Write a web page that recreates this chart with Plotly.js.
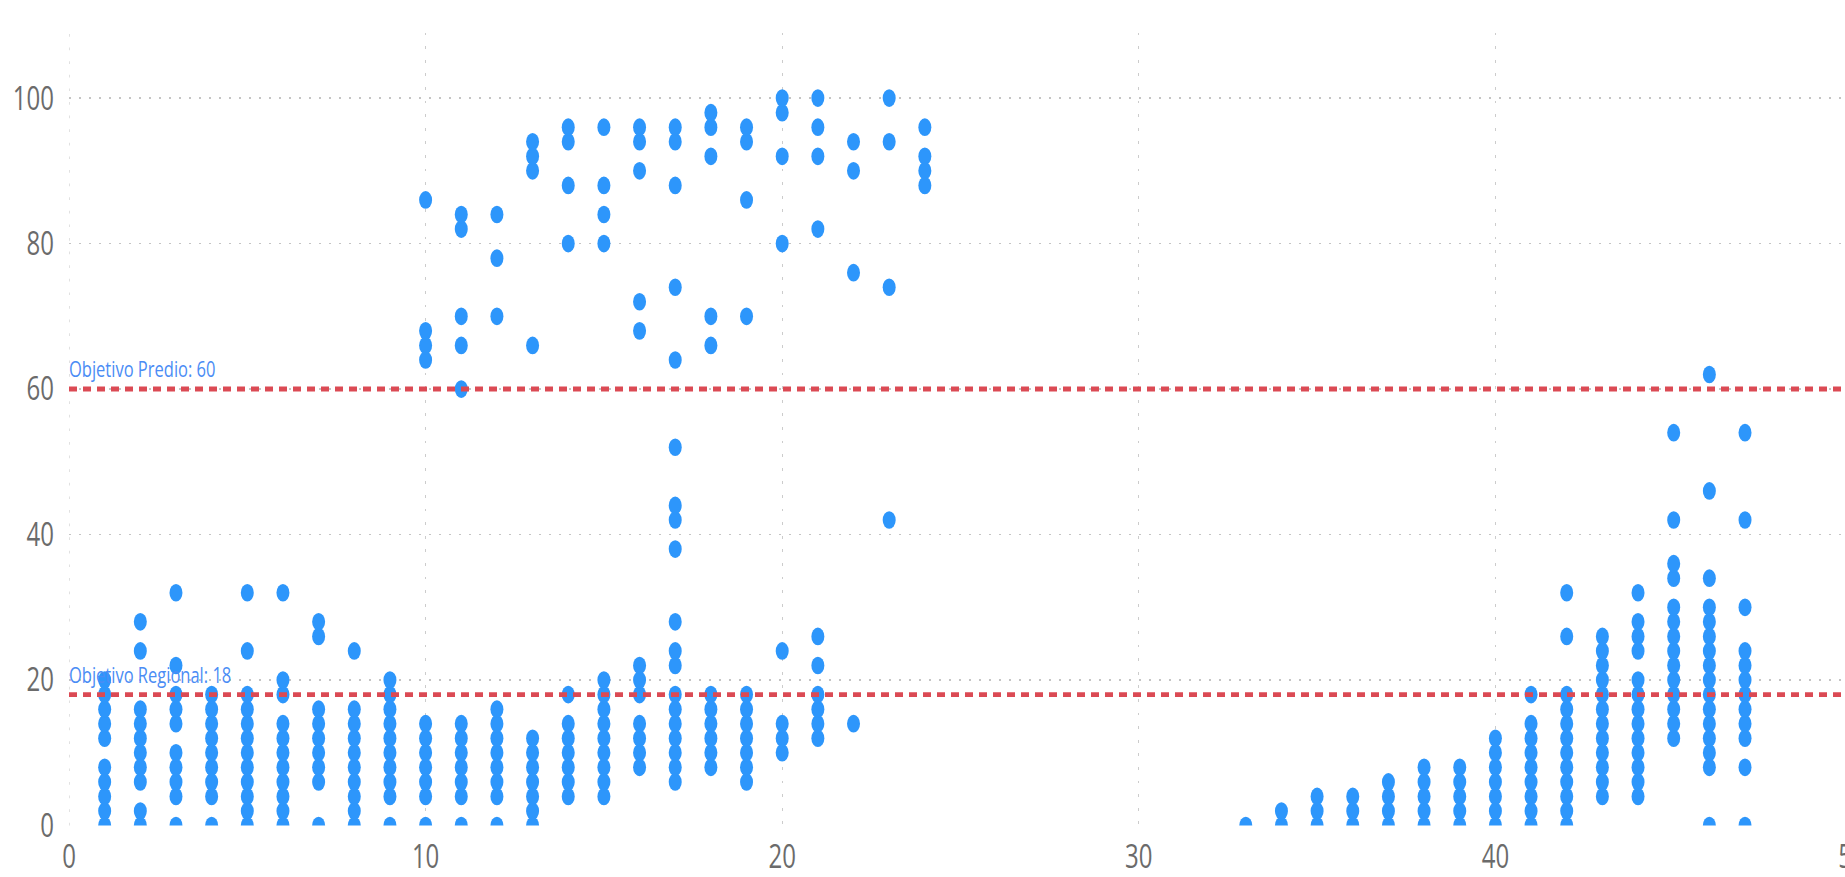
<!DOCTYPE html>
<html>
<head>
<meta charset="utf-8">
<script src="https://cdn.plot.ly/plotly-3.0.1.min.js"></script>
<style>
  html, body { margin: 0; padding: 0; background: #ffffff; overflow: hidden; width: 1845px; height: 877px; }
  #wrap { position: absolute; left: 0; top: 0; width: 1880px; height: 645px; transform-origin: 0 0; transform: scaleY(1.36); }
  #chart { width: 1880px; height: 645px; }
</style>
</head>
<body>
<div id="wrap"><div id="chart"></div></div>
<script>
// ---- data ----
const xCategories = [1,2,3,4,5,6,7,8,9,10,11,12,13,14,15,16,17,18,19,20,21,22,23,24,
                     33,34,35,36,37,38,39,40,41,42,43,44,45,46,47];
const yByX = [
  [0,2,4,6,8,12,14,16,18,20],
  [0,2,6,8,10,12,14,16,24,28],
  [0,4,6,8,10,14,16,18,22,32],
  [0,4,6,8,10,12,14,16,18],
  [0,2,4,6,8,10,12,14,16,18,24,32],
  [0,2,4,6,8,10,12,14,18,20,32],
  [0,6,8,10,12,14,16,26,28],
  [0,2,4,6,8,10,12,14,16,24],
  [0,4,6,8,10,12,14,16,18,20],
  [0,4,6,8,10,12,14,64,66,68,86],
  [0,4,6,8,10,12,14,60,66,70,82,84],
  [0,4,6,8,10,12,14,16,70,78,84],
  [0,2,4,6,8,10,12,66,90,92,94],
  [4,6,8,10,12,14,18,80,88,94,96],
  [4,6,8,10,12,14,16,18,20,80,84,88,96],
  [8,10,12,14,18,20,22,68,72,90,94,96],
  [6,8,10,12,14,16,18,22,24,28,38,42,44,52,64,74,88,94,96],
  [8,10,12,14,16,18,66,70,92,96,98],
  [6,8,10,12,14,16,18,70,86,94,96],
  [10,12,14,24,80,92,98,100],
  [12,14,16,18,22,26,82,92,96,100],
  [14,76,90,94],
  [42,74,94,100],
  [88,90,92,96],
  [0],
  [0,2],
  [0,2,4],
  [0,2,4],
  [0,2,4,6],
  [0,2,4,6,8],
  [0,2,4,6,8],
  [0,2,4,6,8,10,12],
  [0,2,4,6,8,10,12,14,18],
  [0,2,4,6,8,10,12,14,16,18,26,32],
  [4,6,8,10,12,14,16,18,20,22,24,26],
  [4,6,8,10,12,14,16,18,20,24,26,28,32],
  [12,14,16,18,20,22,24,26,28,30,34,36,42,54],
  [0,8,10,12,14,16,18,20,22,24,26,28,30,34,46,62],
  [0,8,12,14,16,18,20,22,24,30,42,54]
];
const targetValues = [60, 18];
const targetLabels = ["Objetivo Predio: 60", "Objetivo Regional: 18"];
const xTickVals = [0,10,20,30,40,50];
const yTickVals = [0,20,40,60,80,100];

// ---- build trace ----
const xs = [], ys = [];
xCategories.forEach((xv, i) => { yByX[i].forEach(yv => { xs.push(xv); ys.push(yv); }); });

const font = '"Open Sans", "Noto Sans", sans-serif';
const trace = {
  type: 'scatter', mode: 'markers', x: xs, y: ys,
  marker: { size: 13, color: '#2d96fb', line: { width: 0 } },
  cliponaxis: true, hoverinfo: 'skip'
};

const shapes = [{
  type: 'line', xref: 'x', x0: 0, x1: 0, yref: 'paper', y0: 0, y1: 1,
  line: { color: '#c4c4c4', width: 1, dash: '2px,8px' }, layer: 'below'
}].concat(targetValues.map(v => ({
  type: 'line', xref: 'paper', x0: 0, x1: 1, yref: 'y', y0: v, y1: v,
  line: { color: '#db4a54', width: 3.6, dash: '8px,6px' }, layer: 'above'
})));
const annotations = targetValues.map((v, i) => ({
  xref: 'x', x: 0, yref: 'y', y: v, xanchor: 'left', yanchor: 'bottom',
  text: targetLabels[i], showarrow: false, xshift: -2, yshift: 2,
  font: { family: font, size: 16.5, color: '#4a8cf5' }
}));

const layout = {
  width: 1880, height: 645,
  margin: { l: 69, r: 28, t: 24, b: 38 },
  paper_bgcolor: '#ffffff', plot_bgcolor: '#ffffff',
  showlegend: false,
  xaxis: {
    range: [0, 50], tickvals: xTickVals, ticktext: xTickVals.map(String),
    showgrid: true, gridcolor: '#cccccc', griddash: '2px,8px', gridwidth: 1,
    zeroline: false, showline: false, ticks: '',
    ticklabelstandoff: 6,
    tickfont: { family: font, size: 24, color: '#6b6b6b' }
  },
  yaxis: {
    range: [0, 109], tickvals: yTickVals, ticktext: yTickVals.map(String),
    showgrid: true, gridcolor: '#c4c4c4', griddash: '2px,8px', gridwidth: 1,
    zeroline: false, showline: false, ticks: '',
    ticklabelstandoff: 14,
    tickfont: { family: font, size: 24, color: '#6b6b6b' }
  },
  shapes: shapes,
  annotations: annotations
};

Plotly.newPlot('chart', [trace], layout, { staticPlot: true, displayModeBar: false });
</script>
</body>
</html>
